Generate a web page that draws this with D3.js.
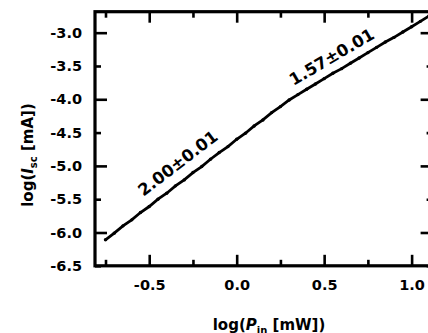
<!DOCTYPE html>
<html><head><meta charset="utf-8">
<script src="https://cdn.jsdelivr.net/npm/d3@7"></script>
<style>
html,body{margin:0;padding:0;background:#fff;}
svg{display:block;font-family:"DejaVu Sans",sans-serif;font-weight:bold;}
</style></head><body>
<svg id="c" width="428" height="333"></svg>
<script>
// data: log(P_in [mW]) vs log(I_sc [mA])
const logP = [-0.75,-0.70,-0.65,-0.60,-0.55,-0.50,-0.45,-0.40,-0.35,-0.30,-0.25,-0.20,-0.15,-0.10,-0.05,0.00,0.05,0.10,0.15,0.20,0.25,0.30,0.35,0.40,0.45,0.50,0.55,0.60,0.65,0.70,0.75,0.80,0.85,0.90,0.95,1.00,1.05,1.10];
const logI = [-6.11,-6.01,-5.90,-5.81,-5.70,-5.61,-5.50,-5.41,-5.30,-5.21,-5.10,-5.01,-4.90,-4.80,-4.71,-4.60,-4.51,-4.40,-4.31,-4.20,-4.11,-4.01,-3.93,-3.85,-3.77,-3.69,-3.61,-3.54,-3.46,-3.38,-3.30,-3.22,-3.14,-3.07,-2.99,-2.91,-2.83,-2.75];
const xMajor = [-0.5, 0.0, 0.5, 1.0];
const xMinor = [-0.75, -0.25, 0.25, 0.75];
const yLabels = [-3.0, -3.5, -4.0, -4.5, -5.0, -5.5, -6.0, -6.5];
const yMajor = [-3.0, -4.0, -5.0, -6.0];
const yMinor = [-3.5, -4.5, -5.5, -6.5];
const fitText = ["2.00\u00B10.01", "1.57\u00B10.01"];
const fitX = [-0.317, 0.560];
const fitY = [-5.028, -3.438];

const L=95, R=432.6, T=11.7, B=265.8;
const x = d3.scaleLinear().domain([-0.81, 1.12]).range([L, R]);
const y = d3.scaleLinear().domain([-6.5, -2.685]).range([B, T]);
const svg = d3.select("#c");
const fmt = d => d.toFixed(1);

function styleAxis(g){ g.select(".domain").remove(); g.selectAll("line").attr("stroke","#000").attr("stroke-width",2.6); g.selectAll("text").attr("font-size",14.5).attr("font-family","'DejaVu Sans',sans-serif").attr("font-weight","bold").attr("fill","#000"); }

// bottom
svg.append("g").attr("transform",`translate(0,${B})`).call(d3.axisBottom(x).tickValues(xMajor).tickSize(-11).tickPadding(14).tickFormat(fmt)).call(styleAxis);
svg.append("g").attr("transform",`translate(0,${B})`).call(d3.axisBottom(x).tickValues(xMinor).tickSize(-6).tickFormat("")).call(styleAxis);
// top
svg.append("g").attr("transform",`translate(0,${T})`).call(d3.axisTop(x).tickValues(xMajor).tickSize(-11).tickFormat("")).call(styleAxis);
svg.append("g").attr("transform",`translate(0,${T})`).call(d3.axisTop(x).tickValues(xMinor).tickSize(-6).tickFormat("")).call(styleAxis);
// left
svg.append("g").attr("transform",`translate(${L},0)`).call(d3.axisLeft(y).tickValues(yLabels).tickSize(0).tickPadding(13).tickFormat(fmt)).call(styleAxis);
svg.append("g").attr("transform",`translate(${L},0)`).call(d3.axisLeft(y).tickValues(yMajor).tickSize(-12).tickFormat("")).call(styleAxis);
svg.append("g").attr("transform",`translate(${L},0)`).call(d3.axisLeft(y).tickValues(yMinor).tickSize(-6).tickFormat("")).call(styleAxis);
// right
svg.append("g").attr("transform",`translate(${R},0)`).call(d3.axisRight(y).tickValues(yMajor).tickSize(-12).tickFormat("")).call(styleAxis);
svg.append("g").attr("transform",`translate(${R},0)`).call(d3.axisRight(y).tickValues(yMinor).tickSize(-6).tickFormat("")).call(styleAxis);

// frame
svg.append("rect").attr("x",L).attr("y",T).attr("width",R-L).attr("height",B-T).attr("fill","none").attr("stroke","#000").attr("stroke-width",3.2);

// data
const pts = logP.map((p,i)=>[p, logI[i]]);
svg.append("path").datum(pts).attr("fill","none").attr("stroke","#000").attr("stroke-width",2.8)
  .attr("d", d3.line().x(d=>x(d[0])).y(d=>y(d[1])));
svg.append("g").selectAll("circle").data(pts).join("circle")
  .attr("cx",d=>x(d[0])).attr("cy",d=>y(d[1])).attr("r",1.7).attr("fill","#000");

// slope labels
const angles = [-37.5, -30.5];
fitText.forEach((t,i)=>{
  svg.append("text").attr("transform",`translate(${x(fitX[i])},${y(fitY[i])}) rotate(${angles[i]})`)
    .attr("text-anchor","middle").attr("font-size",16.5).attr("fill","#000").text(t);
});

// axis titles
const xt = svg.append("text").attr("x",269).attr("y",330).attr("text-anchor","middle").attr("font-size",15).attr("fill","#000");
xt.append("tspan").text("log(");
xt.append("tspan").attr("font-style","italic").text("P");
xt.append("tspan").attr("font-size",10).attr("dy",4).text("in");
xt.append("tspan").attr("dy",-4).text(" [mW])");

const yt = svg.append("text").attr("transform","translate(33,155) rotate(-90)").attr("text-anchor","middle").attr("font-size",15).attr("fill","#000");
yt.append("tspan").text("log(");
yt.append("tspan").attr("font-style","italic").text("I");
yt.append("tspan").attr("font-size",10).attr("dy",4).text("sc");
yt.append("tspan").attr("dy",-4).text(" [mA])");
</script>
</body></html>
